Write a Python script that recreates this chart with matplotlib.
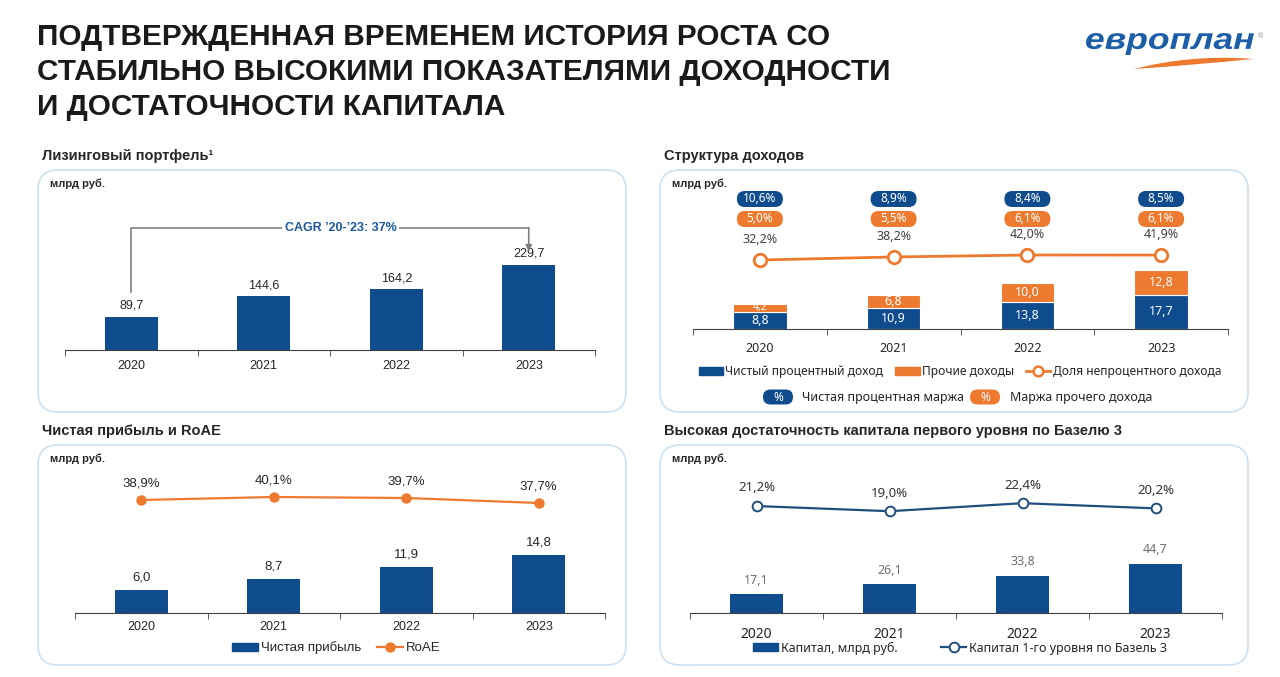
import matplotlib
matplotlib.use('Agg')
import matplotlib.pyplot as plt
import matplotlib.transforms as mtransforms
from matplotlib.patches import FancyBboxPatch, Patch, PathPatch
from matplotlib.lines import Line2D
from matplotlib.path import Path
from matplotlib.textpath import TextPath
from matplotlib.font_manager import FontProperties
import numpy as np

plt.rcParams['font.family'] = ['Liberation Sans', 'DejaVu Sans']

# данные
years = ['2020', '2021', '2022', '2023']
portfolio = [89.7, 144.6, 164.2, 229.7]
cagr_text = 'CAGR \u201920-\u201923: 37%'
nii = [8.8, 10.9, 13.8, 17.7]
other_inc = [4.2, 6.8, 10.0, 12.8]
nonint_share = [32.2, 38.2, 42.0, 41.9]
nim = [10.6, 8.9, 8.4, 8.5]
other_margin = [5.0, 5.5, 6.1, 6.1]
net_profit = [6.0, 8.7, 11.9, 14.8]
roae = [38.9, 40.1, 39.7, 37.7]
capital = [17.1, 26.1, 33.8, 44.7]
tier1 = [21.2, 19.0, 22.4, 20.2]

BLUE = '#0f4c8e'
ORANGE = '#ee7a30'
NAVY = '#1f4f7d'
BORDER = '#cfe2f1'
TXT = '#262626'
SANS2 = ['Noto Sans', 'DejaVu Sans']

W, H = 1280, 677
fig = plt.figure(figsize=(W / 100, H / 100), dpi=100)
x = np.arange(len(years))


def fx(px):
    return px / W


def fy(py):
    return 1 - py / H


def ru(v, pct=False):
    s = f'{v:.1f}'.replace('.', ',')
    return s + '%' if pct else s


def panel(x0, y0, x1, y1, title):
    box = FancyBboxPatch((x0 / 100, (H - y1) / 100), (x1 - x0) / 100, (y1 - y0) / 100,
                         boxstyle='round,pad=0,rounding_size=0.2',
                         transform=fig.dpi_scale_trans, fc='none', ec=BORDER, lw=1.3)
    fig.add_artist(box)
    fig.text(fx(x0 + 4), fy(y0 - 14), title, fontsize=10.5, fontweight='bold', color=TXT, va='center')
    fig.text(fx(x0 + 12), fy(y0 + 14), 'млрд руб.', fontsize=8, fontweight='bold', color=TXT, va='center')


def chart_axes(left, right, base, ymax, pad=6, family=None, size=9):
    ax = fig.add_axes([fx(left), fy(base), (right - left) / W, 150 / H])
    ax.set_xlim(-0.5, len(years) - 0.5)
    ax.set_ylim(0, ymax)
    ax.patch.set_alpha(0)
    for s in ['top', 'right', 'left']:
        ax.spines[s].set_visible(False)
    ax.spines['bottom'].set_color('#404040')
    ax.set_yticks([])
    ax.set_xticks(x)
    ax.set_xticklabels(years)
    if family:
        for t in ax.get_xticklabels():
            t.set_family(family)
    ax.set_xticks(np.arange(-0.5, len(years)), minor=True)
    ax.tick_params(axis='x', which='major', length=0, labelsize=size, colors=TXT, pad=pad)
    ax.tick_params(axis='x', which='minor', length=4, color='#404040')
    return ax


def twin(ax, lo, hi):
    t = ax.twinx()
    t.set_ylim(lo, hi)
    t.axis('off')
    return t


def pill(trans, xc, yc, w, h, color, text, size=8.5):
    off = mtransforms.ScaledTranslation(xc, yc, trans)
    p = FancyBboxPatch((-w / 200, -h / 200), w / 100, h / 100,
                       boxstyle=f'round,pad=0,rounding_size={h / 200}',
                       transform=fig.dpi_scale_trans + off, fc=color, ec='none')
    fig.add_artist(p)
    fig.text(xc, yc, text, transform=trans, ha='center', va='center', color='white',
             fontsize=size, fontweight='bold', family=SANS2)


# заголовок (размер подбирается по ширине первой строки)
title_lines = ['ПОДТВЕРЖДЕННАЯ ВРЕМЕНЕМ ИСТОРИЯ РОСТА СО',
               'СТАБИЛЬНО ВЫСОКИМИ ПОКАЗАТЕЛЯМИ ДОХОДНОСТИ',
               'И ДОСТАТОЧНОСТИ КАПИТАЛА']
title_texts = [fig.text(fx(37), fy(45 + 35 * i), line, fontsize=18.5, fontweight='bold',
                        color='#1a1a1a', va='baseline') for i, line in enumerate(title_lines)]
renderer = fig.canvas.get_renderer()
tw = title_texts[0].get_window_extent(renderer).width
for t in title_texts:
    t.set_fontsize(18.5 * 797 / tw)

# логотип
tp = TextPath((0, 0), 'европлан', size=30,
              prop=FontProperties(family='Liberation Sans', weight='bold', style='italic'))
ext = tp.get_extents()
sx = 168 / ext.width
sy = 22 / ext.height
logo_tr = (mtransforms.Affine2D().translate(-ext.x0, -ext.y0).scale(sx / 100, sy / 100)
           .translate(1086 / 100, (H - 55) / 100) + fig.dpi_scale_trans)
fig.add_artist(PathPatch(tp, transform=logo_tr, fc='#1c5ea8', ec='none'))
fig.text(fx(1260), fy(37), '®', fontsize=5, color='#8a8a8a', ha='center', va='center')
sw = Path([(1134, 69), (1192, 54), (1253, 59), (1195, 65), (1134, 69)],
          [Path.MOVETO, Path.CURVE3, Path.CURVE3, Path.CURVE3, Path.CURVE3])
sw_tr = mtransforms.Affine2D().scale(1 / 100, -1 / 100).translate(0, H / 100) + fig.dpi_scale_trans
fig.add_artist(PathPatch(sw, transform=sw_tr, fc=ORANGE, ec='none'))

# панели
panel(38, 170, 626, 412, 'Лизинговый портфель¹')
panel(660, 170, 1248, 412, 'Структура доходов')
panel(38, 445, 626, 665, 'Чистая прибыль и RoAE')
panel(660, 445, 1248, 665, 'Высокая достаточность капитала первого уровня по Базелю 3')

# 1. Лизинговый портфель
ax1 = chart_axes(65, 595, 350, 150 / 0.37, pad=7)
ax1.bar(x, portfolio, width=0.4, color=BLUE)
for i, v in enumerate(portfolio):
    ax1.annotate(ru(v), (i, v), xytext=(0, 8), textcoords='offset points',
                 ha='center', va='center', fontsize=9, color=TXT)
top = max(portfolio) * 1.437
ax1.plot([0, 0, len(years) - 1], [portfolio[0] * 1.75, top, top], color='#808080', lw=1.2)
ax1.annotate('', xy=(len(years) - 1, portfolio[-1] * 1.16), xytext=(len(years) - 1, top),
             arrowprops=dict(arrowstyle='-|>', color='#808080', lw=1.2, mutation_scale=9,
                             shrinkA=0, shrinkB=0))
ax1.text(1.58, top, cagr_text, ha='center', va='center', fontsize=9, fontweight='bold',
         color='#1b5a9c', bbox=dict(fc='white', ec='none', pad=2))

# 2. Структура доходов
ax2 = chart_axes(693, 1228, 329, 150 / 1.93, pad=9, family=SANS2)
ax2.bar(x, nii, width=0.4, color=BLUE, edgecolor='white', lw=0.8)
ax2.bar(x, other_inc, width=0.4, bottom=nii, color=ORANGE, edgecolor='white', lw=0.8)
for i in x:
    ax2.text(i, nii[i] / 2, ru(nii[i]), ha='center', va='center', color='white',
             fontsize=9, family=SANS2)
    ax2.text(i, nii[i] + other_inc[i] / 2, ru(other_inc[i]), ha='center', va='center',
             color='white', fontsize=9 if other_inc[i] > 5 else 7.5, family=SANS2)
t2 = twin(ax2, -103, 191)
t2.plot(x, nonint_share, color=ORANGE, lw=2, marker='o', ms=9, mfc='white', mew=2)
for i, v in enumerate(nonint_share):
    t2.annotate(ru(v, True), (i, v), xytext=(0, 15), textcoords='offset points',
                ha='center', va='center', fontsize=9, color='#404040', family=SANS2)
bl2 = mtransforms.blended_transform_factory(ax2.transData, fig.transFigure)
for i in x:
    pill(bl2, i, fy(199), 46, 16, BLUE, ru(nim[i], True))
    pill(bl2, i, fy(219), 46, 16, ORANGE, ru(other_margin[i], True))
h2 = [Patch(color=BLUE, label='Чистый процентный доход'),
      Patch(color=ORANGE, label='Прочие доходы'),
      Line2D([], [], color=ORANGE, lw=2, marker='o', ms=7, mfc='white', mew=1.8,
             label='Доля непроцентного дохода')]
fig.legend(handles=h2, loc='center', bbox_to_anchor=(fx(960), fy(372)), ncol=3,
           frameon=False, prop=FontProperties(family=SANS2, size=8.7), handlelength=2,
           handleheight=0.6, handletextpad=0.2, columnspacing=1.0, labelcolor=TXT)
pill(fig.transFigure, fx(778), fy(397), 30, 15, BLUE, '%')
fig.text(fx(802), fy(397), 'Чистая процентная маржа', va='center', fontsize=9,
         color=TXT, family=SANS2)
pill(fig.transFigure, fx(985), fy(397), 30, 15, ORANGE, '%')
fig.text(fx(1010), fy(397), 'Маржа прочего дохода', va='center', fontsize=9,
         color=TXT, family=SANS2)

# 3. Чистая прибыль и RoAE
ax3 = chart_axes(75, 605, 613, 150 / 3.9, pad=6)
ax3.bar(x, net_profit, width=0.4, color=BLUE)
for i, v in enumerate(net_profit):
    ax3.annotate(ru(v), (i, v), xytext=(0, 9), textcoords='offset points',
                 ha='center', va='center', fontsize=9.5, color=TXT)
t3 = twin(ax3, -6.3, 53.7)
t3.plot(x, roae, color=ORANGE, lw=1.6, marker='o', ms=6.5)
for i, v in enumerate(roae):
    t3.annotate(ru(v, True), (i, v), xytext=(0, 12), textcoords='offset points',
                ha='center', va='center', fontsize=9.5, color=TXT)
h3 = [Patch(color=BLUE, label='Чистая прибыль'),
      Line2D([], [], color=ORANGE, lw=1.6, marker='o', ms=6.5, label='RoAE')]
fig.legend(handles=h3, loc='center', bbox_to_anchor=(fx(336), fy(648)), ncol=2,
           frameon=False, fontsize=9.5, handlelength=2, handleheight=0.6,
           handletextpad=0.2, columnspacing=1.2, labelcolor=TXT)

# 4. Капитал первого уровня
ax4 = chart_axes(690, 1222, 613, 150 / 1.1, pad=10, family=SANS2, size=10)
ax4.bar(x, capital, width=0.4, color=BLUE)
for i, v in enumerate(capital):
    ax4.annotate(ru(v), (i, v), xytext=(0, 10), textcoords='offset points',
                 ha='center', va='center', fontsize=9, color='#707070', family=SANS2)
t4 = twin(ax4, -24.3, 39.5)
t4.plot(x, tier1, color=NAVY, lw=1.6, marker='o', ms=7, mfc='white', mew=1.4)
for i, v in enumerate(tier1):
    t4.annotate(ru(v, True), (i, v), xytext=(0, 13), textcoords='offset points',
                ha='center', va='center', fontsize=9.5, fontweight='bold', color='#333333',
                family=SANS2)
h4 = [Patch(color=BLUE, label='Капитал, млрд руб.'),
      Line2D([], [], color=NAVY, lw=1.6, marker='o', ms=7, mfc='white', mew=1.4,
             label='Капитал 1-го уровня по Базель 3')]
fig.legend(handles=h4, loc='center', bbox_to_anchor=(fx(960), fy(648)), ncol=2,
           frameon=False, prop=FontProperties(family=SANS2, size=9), handlelength=2,
           handleheight=0.6, handletextpad=0.2, columnspacing=3.5, labelcolor=TXT)

fig.savefig('out.png', dpi=100, facecolor='white')
